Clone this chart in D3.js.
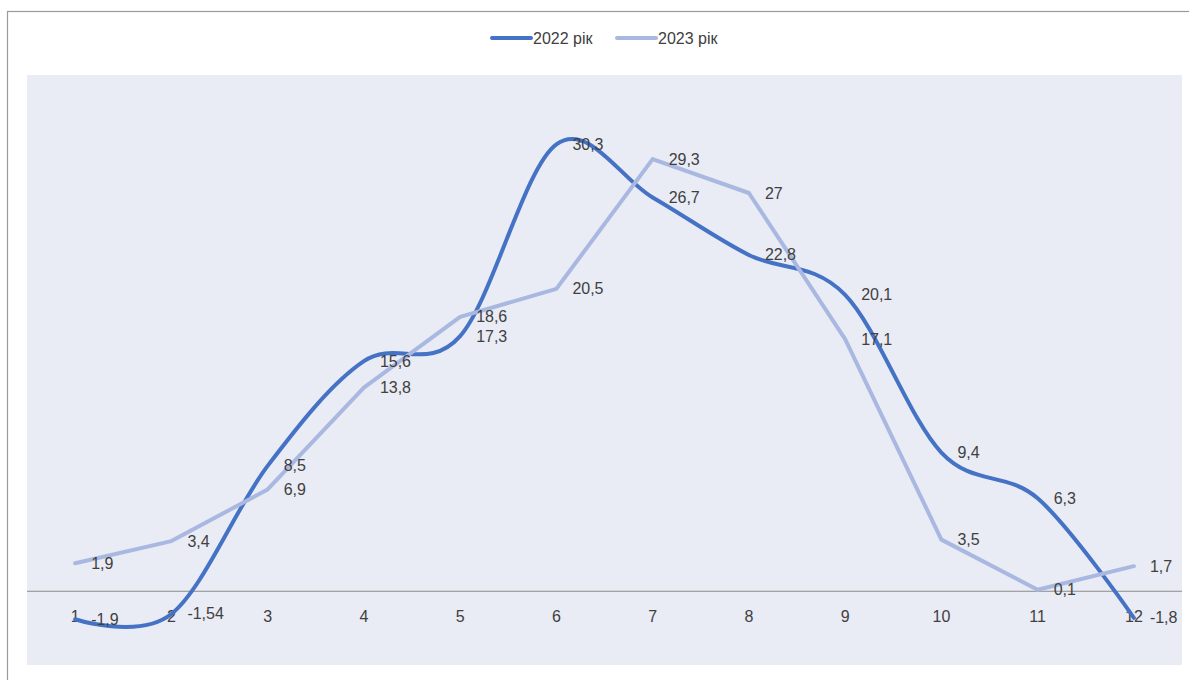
<!DOCTYPE html>
<html>
<head>
<meta charset="utf-8">
<script src="https://cdn.jsdelivr.net/npm/d3@7"></script>
<style>
  html, body { margin: 0; padding: 0; background: #fff; }
  svg { display: block; }
  text { font-family: "Liberation Sans", Arial, sans-serif; fill: #404040; }
</style>
</head>
<body>
<svg id="chart" width="1189" height="680"></svg>
<script>
// Monthly values, per year
const months = [1, 2, 3, 4, 5, 6, 7, 8, 9, 10, 11, 12];
const values2022 = [-1.9, -1.54, 8.5, 15.6, 17.3, 30.3, 26.7, 22.8, 20.1, 9.4, 6.3, -1.8];
const values2023 = [1.9, 3.4, 6.9, 13.8, 18.6, 20.5, 29.3, 27, 17.1, 3.5, 0.1, 1.7];
const seriesNames = ["2022 рік", "2023 рік"];
const yDomain = [-5, 35];

const W = 1189, H = 680;
const plot = { left: 27, right: 1182, top: 75, bottom: 665 };

const svg = d3.select("#chart");

// outer chart frame
svg.append("rect")
  .attr("x", 7.5).attr("y", 11.5)
  .attr("width", 1300).attr("height", 800)
  .attr("fill", "#fff").attr("stroke", "#9a9a9a").attr("stroke-width", 1.2);

// plot area background
svg.append("rect")
  .attr("x", plot.left).attr("y", plot.top)
  .attr("width", plot.right - plot.left).attr("height", plot.bottom - plot.top)
  .attr("fill", "#E9EBF5");

const x = d3.scaleBand().domain(months).range([plot.left, plot.right]);
const cx = m => x(m) + x.bandwidth() / 2;
const y = d3.scaleLinear().domain(yDomain).range([plot.bottom, plot.top]);

// horizontal axis along zero
svg.append("line")
  .attr("x1", plot.left).attr("x2", plot.right)
  .attr("y1", y(0)).attr("y2", y(0))
  .attr("stroke", "#8c8c8c").attr("stroke-width", 1);

// category labels
const axis = d3.axisBottom(x).tickSize(0).tickPadding(0);
const axisG = svg.append("g").attr("transform", `translate(0,${y(0)})`).call(axis);
axisG.select(".domain").remove();
axisG.selectAll("text")
  .attr("y", 25)
  .attr("dy", null)
  .attr("dominant-baseline", "central")
  .style("font-family", '"Liberation Sans", Arial, sans-serif')
  .style("font-size", "16px")
  .style("fill", "#404040");

const series = [
  { name: seriesNames[0], values: values2022, color: "#4472C4", curve: d3.curveCardinal.tension(0) },
  { name: seriesNames[1], values: values2023, color: "#A9B8E0", curve: d3.curveLinear }
];

series.forEach(s => {
  const line = d3.line()
    .x((d, i) => cx(months[i]))
    .y(d => y(d))
    .curve(s.curve);
  svg.append("path")
    .datum(s.values)
    .attr("d", line)
    .attr("fill", "none")
    .attr("stroke", s.color)
    .attr("stroke-width", 4)
    .attr("stroke-linejoin", "round")
    .attr("stroke-linecap", "round");
});

// data labels to the right of each point
const fmt = v => String(v).replace(".", ",");
series.forEach(s => {
  svg.append("g").selectAll("text")
    .data(s.values)
    .join("text")
    .attr("x", (d, i) => cx(months[i]) + 16)
    .attr("y", d => y(d))
    .attr("dominant-baseline", "central")
    .attr("font-size", 16)
    .text(d => fmt(d));
});

// legend
const legend = svg.append("g");
const legendItems = [
  { x: 492, s: series[0] },
  { x: 617, s: series[1] }
];
legendItems.forEach(it => {
  legend.append("line")
    .attr("x1", it.x).attr("x2", it.x + 39)
    .attr("y1", 38).attr("y2", 38)
    .attr("stroke", it.s.color).attr("stroke-width", 4)
    .attr("stroke-linecap", "round");
  legend.append("text")
    .attr("x", it.x + 41).attr("y", 38)
    .attr("dominant-baseline", "central")
    .attr("font-size", 16)
    .text(it.s.name);
});
</script>
</body>
</html>
